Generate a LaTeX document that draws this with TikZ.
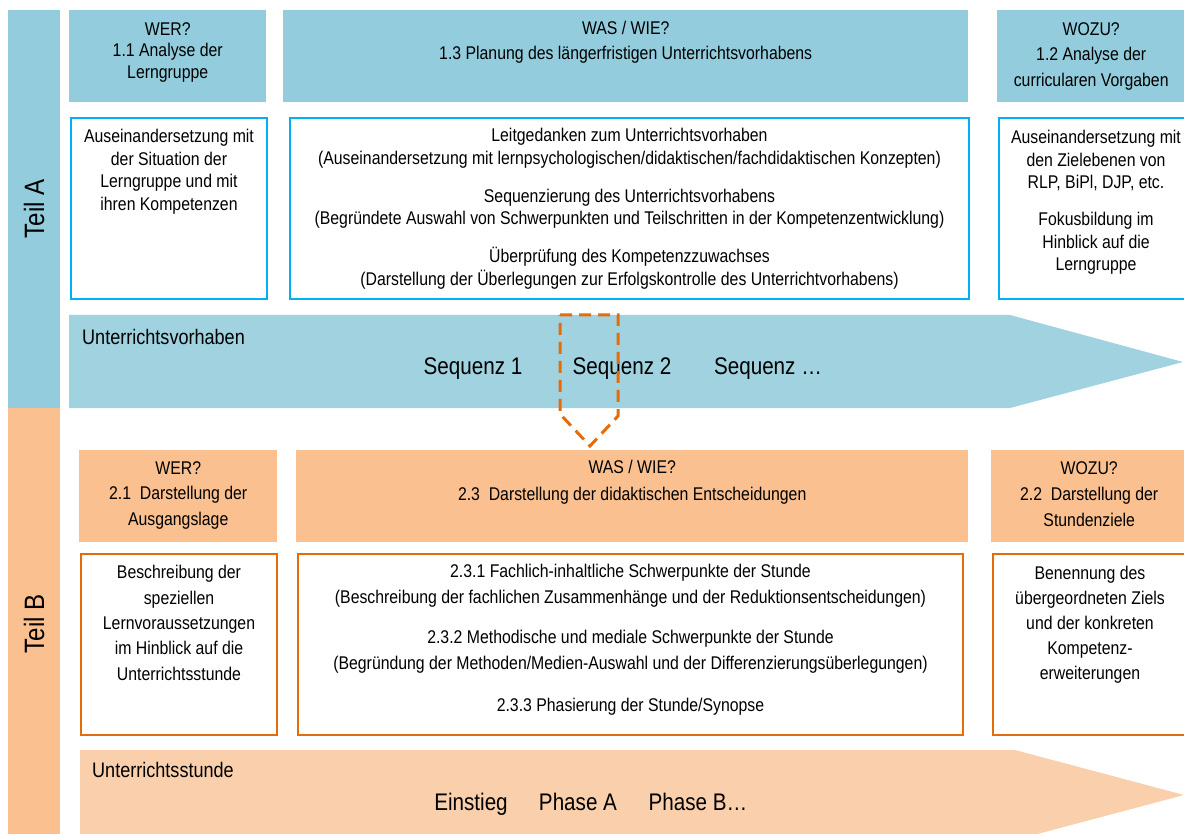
\documentclass[tikz,border=0pt]{standalone}
\usepackage{fontspec}
\setmainfont{Liberation Sans}[FakeStretch=0.86]
\usetikzlibrary{positioning}

\definecolor{hdrblue}{RGB}{147,205,221}
\definecolor{arrblue}{RGB}{160,210,223}
\definecolor{lineblue}{RGB}{0,176,240}
\definecolor{hdrorange}{RGB}{250,192,144}
\definecolor{arrorange}{RGB}{250,208,172}
\definecolor{lineorange}{RGB}{228,108,10}

\begin{document}
\begin{tikzpicture}[x=1pt,y=-1pt,
    hdr/.style={anchor=north west,inner sep=0pt,minimum height=92pt},
    blue hdr/.style={hdr,fill=hdrblue},
    orange hdr/.style={hdr,fill=hdrorange},
    box/.style={anchor=north west,inner sep=0pt,line width=2pt,fill=white,minimum height=181pt},
    blue box/.style={box,draw=lineblue},
    orange box/.style={box,draw=lineorange},
    txt/.style={align=center,inner sep=0pt,font=\fontsize{18.4pt}{#1}\selectfont},
    txt/.default=22.5pt,
    teil/.style={rotate=90,inner sep=0pt,minimum height=52pt,font=\fontsize{28pt}{30pt}\selectfont},
    big/.style={anchor=base,inner sep=0pt,font=\fontsize{24pt}{26pt}\selectfont},
    arrow label/.style={anchor=base west,inner sep=0pt,font=\fontsize{21pt}{23pt}\selectfont}]

  \useasboundingbox (0,0) rectangle (1184,834);

  % Teil A / Teil B
  \node[teil,fill=hdrblue,minimum width=398pt] (teilA) at (34,209) {Teil A};
  \node[teil,fill=hdrorange,minimum width=432pt] (teilB) at (34,624) {Teil B};

  % Teil A
  \node[blue hdr,minimum width=197pt] (wer1) at (69,10) {};
  \node[blue hdr,minimum width=685pt] (was1) at (283,10) {};
  \node[blue hdr,minimum width=188pt] (wozu1) at (997,10) {};
  \node[txt=21.5pt,below=12pt of wer1.north] (wer1text) {WER?\\1.1 Analyse der\\Lerngruppe};
  \node[txt=25pt,below=11.3pt of was1.north] (was1text) {WAS / WIE?\\1.3 Planung des längerfristigen Unterrichtsvorhabens};
  \node[txt=25.5pt,below=12.3pt of wozu1.north] (wozu1text) {WOZU?\\1.2 Analyse der\\curricularen Vorgaben};

  \node[blue box,minimum width=196pt] (lern1) at (70,117) {};
  \node[blue box,minimum width=679pt] (plan1) at (289,117) {};
  \node[blue box,minimum width=194pt] (ziel1) at (998,117) {};
  \node[txt,below=12.3pt of lern1.north] (lern1text)
    {Auseinandersetzung mit\\der Situation der\\Lerngruppe und mit\\ihren Kompetenzen};
  \node[txt,below=11.3pt of plan1.north] (plan1text)
    {Leitgedanken zum Unterrichtsvorhaben\\
     (Auseinandersetzung mit lernpsychologischen/didaktischen/fachdidaktischen Konzepten)\\[15.5pt]
     Sequenzierung des Unterrichtsvorhabens\\
     (Begründete Auswahl von Schwerpunkten und Teilschritten in der Kompetenzentwicklung)\\[15.5pt]
     Überprüfung des Kompetenzzuwachses\\
     (Darstellung der Überlegungen zur Erfolgskontrolle des Unterrichtvorhabens)};
  \node[txt,below=13.3pt of ziel1.north] (ziel1text)
    {Auseinandersetzung mit\\den Zielebenen von\\RLP, BiPl, DJP, etc.\\[14.5pt]
     Fokusbildung im\\Hinblick auf die\\Lerngruppe};

  \fill[arrblue] (69,315) -- (1010,315) -- (1183,362) -- (1010,408) -- (69,408) -- cycle;
  \node[arrow label] (vorhaben) at (82,345) {Unterrichtsvorhaben};
  \node[big] (seq1) at (473,374) {Sequenz 1};
  \node[big] (seq2) at (622,374) {Sequenz 2};
  \node[big] (seq3) at (768,374) {Sequenz …};
  \draw[lineorange,line width=3pt,dash pattern=on 12pt off 7pt]
    (560,315) -- (618,315) -- (618,416) -- (590,446) -- (560,414) -- cycle;

  % Teil B
  \node[orange hdr,minimum width=198pt] (wer2) at (79,450) {};
  \node[orange hdr,minimum width=672pt] (was2) at (296,450) {};
  \node[orange hdr,minimum width=196pt] (wozu2) at (991,450) {};
  \node[txt=25.5pt,below=11.3pt of wer2.north] (wer2text) {WER?\\2.1\ \ Darstellung der\\Ausgangslage};
  \node[txt=27pt,below=10.3pt of was2.north] (was2text) {WAS / WIE?\\2.3\ \ Darstellung der didaktischen Entscheidungen};
  \node[txt=26pt,below=11.3pt of wozu2.north] (wozu2text) {WOZU?\\2.2\ \ Darstellung der\\Stundenziele};

  \node[orange box,minimum width=196pt] (lern2) at (80,553) {};
  \node[orange box,minimum width=665pt] (plan2) at (297,553) {};
  \node[orange box,minimum width=194pt] (ziel2) at (992,553) {};
  \node[txt=25.3pt,below=12.3pt of lern2.north] (lern2text)
    {Beschreibung der\\speziellen\\Lernvoraussetzungen\\im Hinblick auf die\\Unterrichtsstunde};
  \node[txt=26pt,below=11.3pt of plan2.north] (plan2text)
    {2.3.1 Fachlich-inhaltliche Schwerpunkte der Stunde\\
     (Beschreibung der fachlichen Zusammenhänge und der Reduktionsentscheidungen)\\[14pt]
     2.3.2 Methodische und mediale Schwerpunkte der Stunde\\
     (Begründung der Methoden/Medien-Auswahl und der Differenzierungsüberlegungen)\\[16pt]
     2.3.3 Phasierung der Stunde/Synopse};
  \node[txt=25pt,below=13.3pt of ziel2.north] (ziel2text)
    {Benennung des\\übergeordneten Ziels\\und der konkreten\\Kompetenz-\\erweiterungen};

  \fill[arrorange] (80,750) -- (1015,750) -- (1184,795) -- (1015,840) -- (80,840) -- cycle;
  \node[arrow label] (stunde) at (92,777.5) {Unterrichtsstunde};
  \node[big] (einstieg) at (471,810.5) {Einstieg};
  \node[big] (phaseA) at (578,810.5) {Phase A};
  \node[big] (phaseB) at (698,810.5) {Phase B…};

\end{tikzpicture}
\end{document}
